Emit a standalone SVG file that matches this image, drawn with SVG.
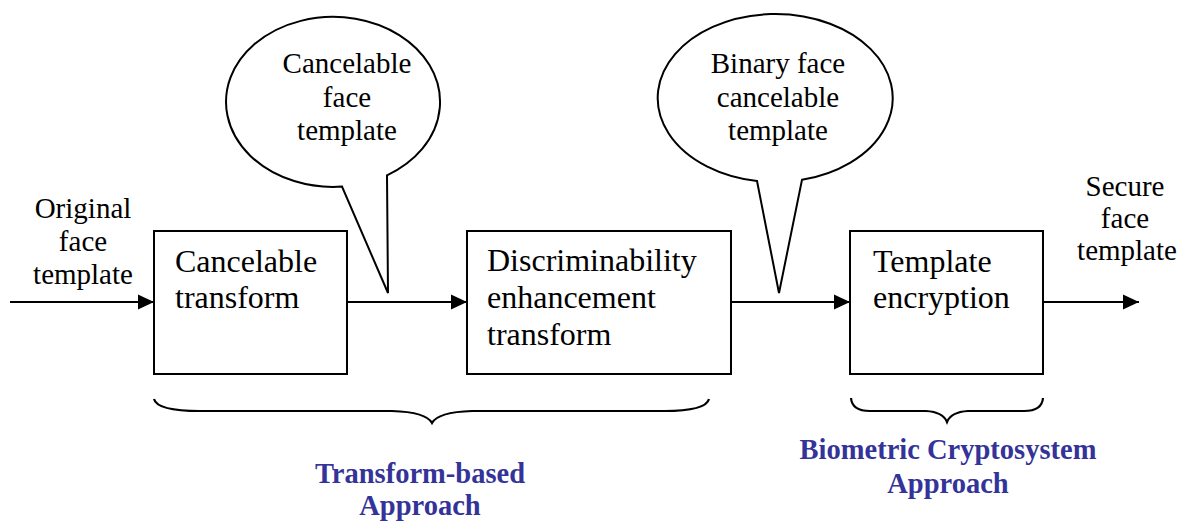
<svg xmlns="http://www.w3.org/2000/svg" width="1187" height="523" viewBox="0 0 1187 523">
<style>
.box{fill:#fff;stroke:#000;stroke-width:2}
.ln{fill:none;stroke:#000;stroke-width:2}
.br{fill:none;stroke:#000;stroke-width:2.2}
.t{font-family:"Liberation Serif","Times New Roman",serif;fill:#000}
.bt{font-size:32px}
.st{font-size:29px;text-anchor:middle}
.bl{font-family:"Liberation Serif","Times New Roman",serif;font-weight:bold;fill:#333399;text-anchor:middle}
</style>
<defs>
<marker id="ah" markerUnits="userSpaceOnUse" markerWidth="16" markerHeight="16" refX="16" refY="8" orient="auto">
<path d="M0,0.5 L16,8 L0,15.5 Z" fill="#000"/>
</marker>
</defs>
<g id="connectors">
<line class="ln" x1="10" y1="302" x2="154" y2="302" marker-end="url(#ah)"/>
<line class="ln" x1="347" y1="302" x2="467" y2="302" marker-end="url(#ah)"/>
<line class="ln" x1="731" y1="302" x2="850" y2="302" marker-end="url(#ah)"/>
<line class="ln" x1="1043" y1="302" x2="1139" y2="302" marker-end="url(#ah)"/>
</g>
<g id="balloon1">
<path class="ln" style="fill:#fff" d="M342,186.6 A107,85 0 1 1 387,175.3 L388,293 Z"/>
<text class="t st"><tspan x="347" y="73">Cancelable</tspan><tspan x="347" y="107">face</tspan><tspan x="347" y="140">template</tspan></text>
</g>
<g id="balloon2">
<path class="ln" style="fill:#fff" d="M757,181 A117.5,84 0 1 1 802,179.8 L779,293 Z"/>
<text class="t st"><tspan x="778" y="73">Binary face</tspan><tspan x="778" y="107">cancelable</tspan><tspan x="778" y="140">template</tspan></text>
</g>
<g id="input">
<text class="t st"><tspan x="83" y="218">Original</tspan><tspan x="83" y="251">face</tspan><tspan x="83" y="284">template</tspan></text>
</g>
<g id="output">
<text class="t st"><tspan x="1125" y="196">Secure</tspan><tspan x="1125" y="228">face</tspan><tspan x="1127" y="260">template</tspan></text>
</g>
<g id="cancelable-transform">
<rect class="box" x="154" y="231" width="193" height="143"/>
<text class="t bt"><tspan x="175" y="272">Cancelable</tspan><tspan x="175" y="308">transform</tspan></text>
</g>
<g id="discriminability">
<rect class="box" x="467" y="231" width="264" height="143"/>
<text class="t bt"><tspan x="487" y="271">Discriminability</tspan><tspan x="487" y="308">enhancement</tspan><tspan x="487" y="345">transform</tspan></text>
</g>
<g id="template-encryption">
<rect class="box" x="850" y="231" width="193" height="143"/>
<text class="t bt"><tspan x="873" y="272">Template</tspan><tspan x="873" y="308">encryption</tspan></text>
</g>
<g id="transform-based">
<path class="br" d="M154,399 Q157,411 200,411 L392,411 Q426,412 432,423 Q438,412 472,411 L664,411 Q706,411 709,399"/>
<text class="bl" style="font-size:28.5px"><tspan x="420" y="483">Transform-based</tspan><tspan x="420" y="515">Approach</tspan></text>
</g>
<g id="biometric-crypto">
<path class="br" d="M851,398 Q852,411 870,411 L926,411 Q943,412 947,422 Q951,412 968,411 L1024,411 Q1042,411 1043,398"/>
<text class="bl" style="font-size:28.5px"><tspan x="948" y="459">Biometric Cryptosystem</tspan><tspan x="948" y="493">Approach</tspan></text>
</g>
</svg>
